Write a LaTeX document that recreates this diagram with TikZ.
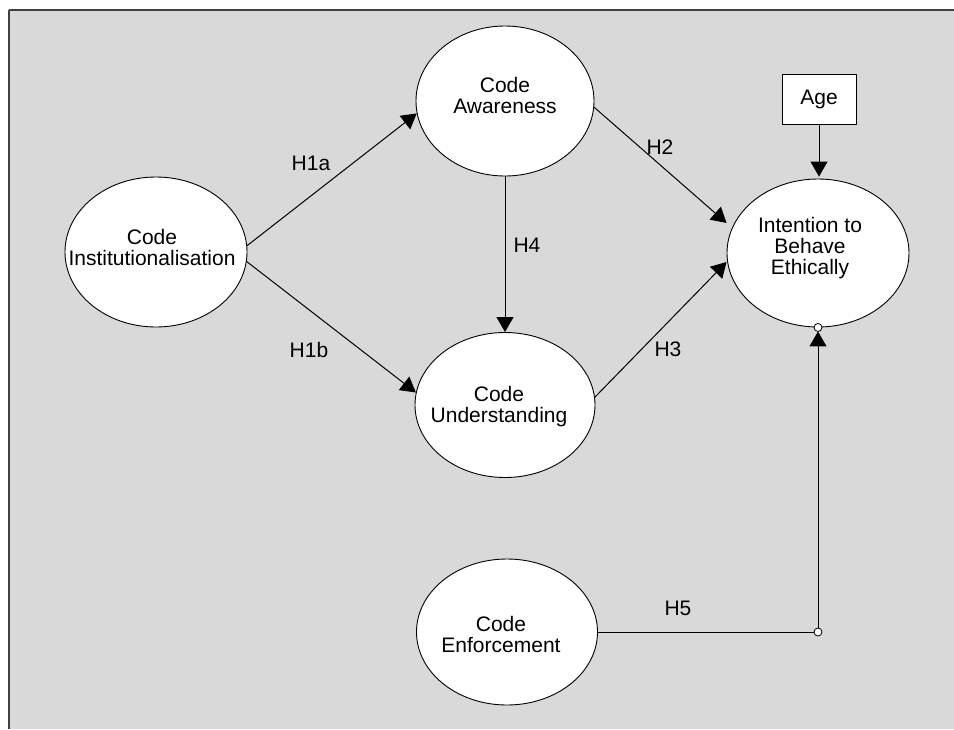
\documentclass[tikz,border=0pt]{standalone}
\usepackage{fontspec}
\setmainfont{Liberation Sans}
\usetikzlibrary{shapes.geometric,arrows.meta,calc}
\definecolor{bggray}{HTML}{D9D9D9}
\definecolor{framegray}{HTML}{404040}
\begin{document}
\begin{tikzpicture}[x=1pt,y=-1pt,
  oval/.style={ellipse,draw=black,line width=0.9pt,fill=white,inner sep=0pt},
  txt/.style={align=center,inner sep=0pt,font=\fontsize{21}{21}\selectfont},
  hlab/.style={inner sep=0pt,font=\fontsize{21}{21}\selectfont},
  conn/.style={line width=1pt,draw=black},
  arr/.style={conn,-{Triangle[length=15pt,width=17pt]}},
  dotc/.style={circle,draw=black,fill=white,line width=0.8pt,inner sep=0pt,minimum size=8pt}
]
\path[use as bounding box] (0,0) rectangle (954,729);
\fill[bggray] (9,10) rectangle (954,729);
\draw[framegray,line width=2pt] (9,10) -- (954,10);
\draw[framegray,line width=1.5pt] (9,10) -- (9,729);

% ellipses
\node[oval,minimum width=182pt,minimum height=150pt] (ci) at (156,252) {};
\node[oval,minimum width=178pt,minimum height=150pt] (ca) at (505,101) {};
\node[oval,minimum width=180pt,minimum height=145pt] (cu) at (505,405) {};
\node[oval,minimum width=181pt,minimum height=146pt] (ce) at (507,632) {};
\node[oval,minimum width=182pt,minimum height=148pt] (ib) at (818,253) {};
\node[draw=black,fill=white,line width=0.9pt,minimum width=74pt,minimum height=50pt,inner sep=0pt] (age) at (819,99) {};

% texts
\node[txt] (ci-t) at (152,247) {Code\\Institutionalisation};
\node[txt] (ca-t) at (505,95) {Code\\Awareness};
\node[txt] (cu-t) at (499,407) {Code\\Understanding};
\node[txt] (ce-t) at (501,634) {Code\\Enforcement};
\node[txt] (ib-t) at (810,248) {Intention to\\Behave\\Ethically};
\node[hlab] (age-t) at (819,99) {Age};

% connectors
\draw[arr] (ci.4) -- (ca.188);
\draw[arr] (ci.-6) -- (cu.172);
\draw[arr] (ca.south) -- (ca.south |- cu.north);
\draw[arr] (ca.-4) -- ($(ib.west)+(0,-30)$);
\draw[arr] (cu.5) -- ($(ib.west)+(0,9)$);
\draw[arr] (age.south) -- ($(age.south |- ib.north)+(0,-2)$);
\coordinate (j) at (ib.south |- ce.east);
\draw[conn] (ce.east) -- (j);
\draw[arr] (j) -- ($(ib.south)+(0,4)$);
\node[dotc] (jd) at (j) {};
\node[dotc] (ibd) at (ib.south) {};

% labels
\node[hlab] (h1a) at (311,163) {H1a};
\node[hlab] (h1b) at (309,350) {H1b};
\node[hlab] (h2) at (660,147) {H2};
\node[hlab] (h3) at (668,349) {H3};
\node[hlab] (h4) at (527,245) {H4};
\node[hlab] (h5) at (678,608) {H5};
\end{tikzpicture}
\end{document}
